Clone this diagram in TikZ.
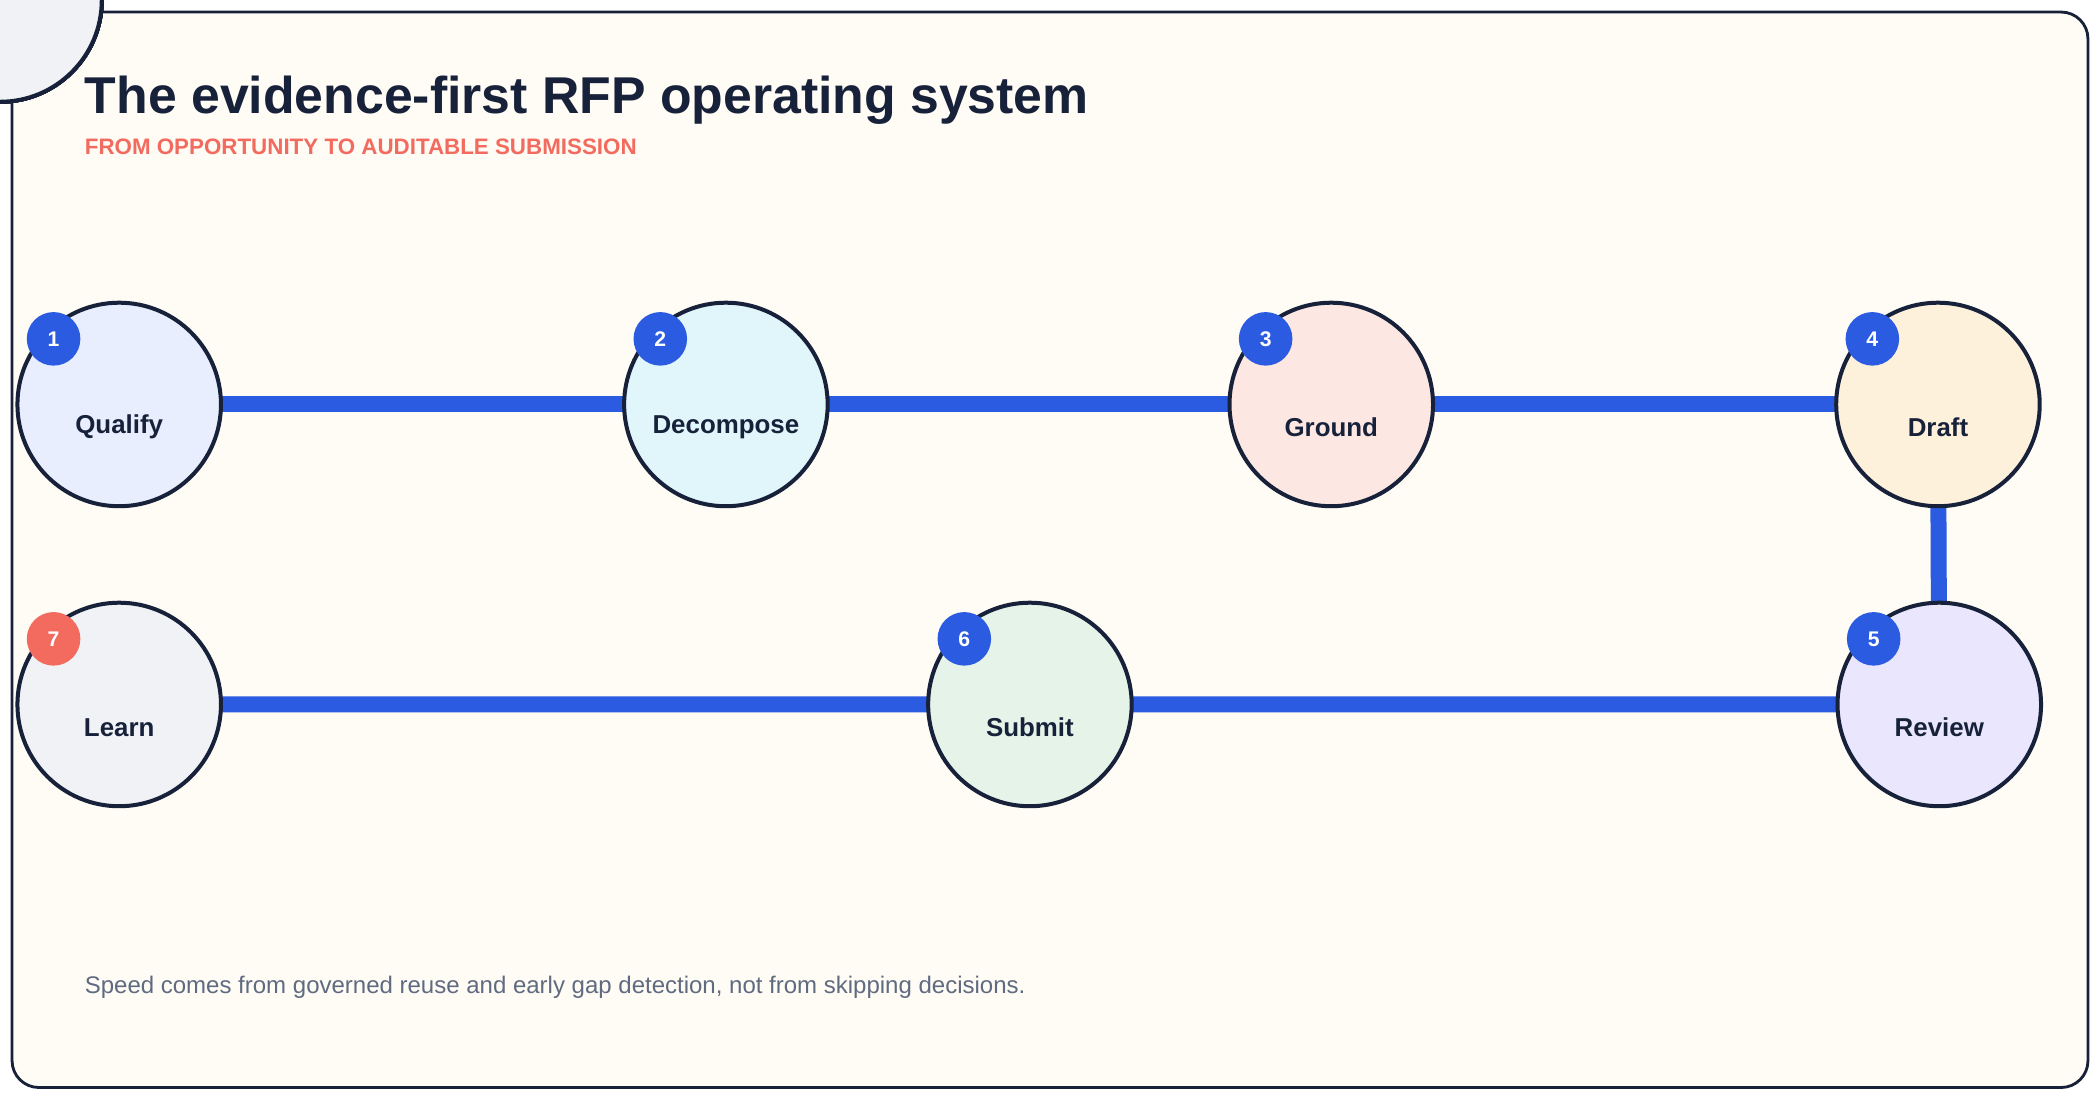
\documentclass[tikz,border=0pt]{standalone}
\usepackage{fontspec}
\setmainfont{Liberation Sans}
\definecolor{ink}{HTML}{17223A}
\definecolor{flow}{HTML}{2A5BE0}
\definecolor{coral}{HTML}{F26B5E}
\definecolor{paper}{HTML}{FFFBF5}
\definecolor{muted}{HTML}{5F6B80}
\definecolor{qualifybg}{HTML}{E8EEFD}
\definecolor{decomposebg}{HTML}{E0F6FA}
\definecolor{groundbg}{HTML}{FDE7E3}
\definecolor{draftbg}{HTML}{FDF1DC}
\definecolor{reviewbg}{HTML}{EAE6FD}
\definecolor{submitbg}{HTML}{E5F3E8}
\definecolor{learnbg}{HTML}{F0F2F6}
\begin{document}
\begin{tikzpicture}[x=0.02cm,y=-0.02cm]
		\tikzstyle{stage}=[circle,draw=ink,line width=1.7pt,minimum size=3.04cm,inner sep=0pt]
		\tikzstyle{badge}=[circle,fill=flow,text=white,minimum size=0.8cm,inner sep=0pt,font=\fontsize{9}{10}\selectfont\bfseries]
		\tikzstyle{link}=[draw=flow,line width=6.8pt]
		\tikzstyle{caption}=[font=\fontsize{11}{13}\selectfont\bfseries,text=ink]

		\useasboundingbox (0,0) rectangle (1568,821);
		\draw[ink,fill=paper,line width=1.2pt,rounded corners=0.4cm] (9,9) rectangle (1559,812);

		\node[anchor=base west,text=ink,font=\fontsize{22}{26}\selectfont\bfseries,inner sep=0pt] (title) at (63,85) {The evidence-first RFP operating system};
		\node[anchor=base west,text=coral,font=\fontsize{9.5}{11}\selectfont\bfseries,inner sep=0pt] (subtitle) at (63,115) {FROM OPPORTUNITY TO AUDITABLE SUBMISSION};
		\node[anchor=base west,text=muted,font=\fontsize{10.2}{12}\selectfont,inner sep=0pt] (footer) at (63,742) {Speed comes from governed reuse and early gap detection, not from skipping decisions.};

		\path[link] (89,302) coordinate (p1) -- (542,302) coordinate (p2) -- (994,302) coordinate (p3) -- (1447,302) coordinate (p4);
		\path[link] (p4) -- (1448,526) coordinate (p5) -- (769,526) coordinate (p6) -- (89,526) coordinate (p7);

		\foreach \s/\t in {qualify/Qualify,decompose/Decompose,ground/Ground,draft/Draft,review/Review,submit/Submit,learn/Learn}
			\node[stage,fill=\s bg] (\s) at (0,0) {};
		\node[stage,fill=qualifybg] (qualify) at (p1) {};
		\node[stage,fill=decomposebg] (decompose) at (p2) {};
		\node[stage,fill=groundbg] (ground) at (p3) {};
		\node[stage,fill=draftbg] (draft) at (p4) {};
		\node[stage,fill=reviewbg] (review) at (p5) {};
		\node[stage,fill=submitbg] (submit) at (p6) {};
		\node[stage,fill=learnbg] (learn) at (p7) {};

		\foreach \s/\t in {qualify/Qualify,decompose/Decompose,ground/Ground,draft/Draft,review/Review,submit/Submit,learn/Learn}
			\node[caption] at ([yshift=-0.34cm]\s.center) {\t};

		\foreach \s/\n in {qualify/1,decompose/2,ground/3,draft/4,review/5,submit/6}
			\node[badge] at ([xshift=-0.98cm,yshift=0.98cm]\s.center) {\n};
		\node[badge,fill=coral] at ([xshift=-0.98cm,yshift=0.98cm]learn.center) {7};
	\end{tikzpicture}
\end{document}
